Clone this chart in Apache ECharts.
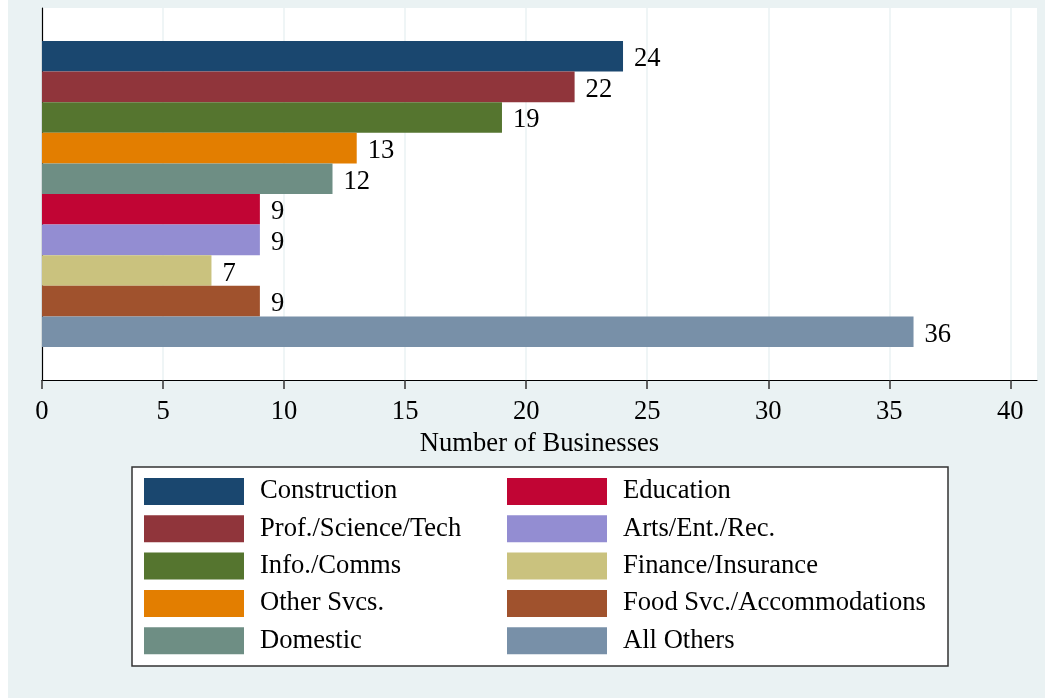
<!DOCTYPE html>
<html>
<head>
<meta charset="utf-8">
<script src="https://cdn.jsdelivr.net/npm/echarts@6/dist/echarts.min.js"></script>
<style>
html,body{margin:0;padding:0;background:#fff;}
#c{width:1052px;height:698px;background:linear-gradient(to right,#fff 0,#fff 8px,#EAF2F3 8px,#EAF2F3 1045px,#fff 1045px);}
</style>
</head>
<body>
<div id="c"></div>
<script>
const categories = ["Construction","Prof./Science/Tech","Info./Comms","Other Svcs.","Domestic","Education","Arts/Ent./Rec.","Finance/Insurance","Food Svc./Accommodations","All Others"];
const values = [24, 22, 19, 13, 12, 9, 9, 7, 9, 36];
const colors = ["#1A476F","#90353B","#55752F","#E37E00","#6E8E84","#C10534","#938DD2","#CAC27E","#A0522D","#7890A8"];
const tickValues = [0, 5, 10, 15, 20, 25, 30, 35, 40];
const axisTitle = "Number of Businesses";

const font = "'Liberation Serif', 'Times New Roman', serif";
const fs = 26.6;
const chart = echarts.init(document.getElementById('c'), null, {renderer: 'canvas'});

const series = categories.map((name, i) => ({
  name: name,
  type: 'bar',
  data: [values[i]],
  itemStyle: {color: colors[i]},
  barGap: '0%',
  barCategoryGap: '17.7%',
  label: {show: true, position: 'right', distance: 11, offset: [0, 3], color: '#000', fontFamily: font, fontSize: fs},
  emphasis: {disabled: true},
  animation: false
}));

const legendCommon = {
  orient: 'vertical',
  top: 478,
  padding: 0,
  itemWidth: 100,
  itemHeight: 27,
  itemGap: 10.3,
  icon: 'rect',
  selectedMode: false,
  z: 20,
  textStyle: {fontFamily: font, fontSize: fs, color: '#000', padding: [8, 0, 0, 11], lineHeight: 19}
};

chart.setOption({
  backgroundColor: 'transparent',
  animation: false,
  textStyle: {fontFamily: font},
  grid: {left: 42, right: 15, top: 8, bottom: 318, show: true, backgroundColor: '#fff', borderWidth: 0},
  xAxis: {
    type: 'value',
    min: 0,
    max: 41.1,
    interval: 5,
    name: axisTitle,
    nameLocation: 'middle',
    nameGap: 43,
    nameTextStyle: {fontFamily: font, fontSize: fs, color: '#000'},
    axisLine: {show: true, onZero: false, lineStyle: {color: '#000', width: 1.2}},
    axisTick: {show: true, length: 9, customValues: tickValues, lineStyle: {color: '#333', width: 1.5}},
    axisLabel: {show: true, margin: 19, customValues: tickValues, fontFamily: font, fontSize: fs, color: '#000'},
    splitLine: {show: true, lineStyle: {color: '#EAF2F3', width: 1.5}}
  },
  yAxis: {
    type: 'category',
    inverse: true,
    data: [''],
    axisLine: {show: true, lineStyle: {color: '#000', width: 1.2}},
    axisTick: {show: false},
    axisLabel: {show: false},
    splitLine: {show: false}
  },
  legend: [
    Object.assign({}, legendCommon, {left: 144, data: categories.slice(0, 5)}),
    Object.assign({}, legendCommon, {left: 507, data: categories.slice(5)})
  ],
  graphic: [{
    type: 'rect',
    z: 0,
    shape: {x: 132, y: 467, width: 816, height: 199},
    style: {fill: '#fff', stroke: '#333', lineWidth: 1.5}
  }],
  series: series
});
</script>
</body>
</html>
